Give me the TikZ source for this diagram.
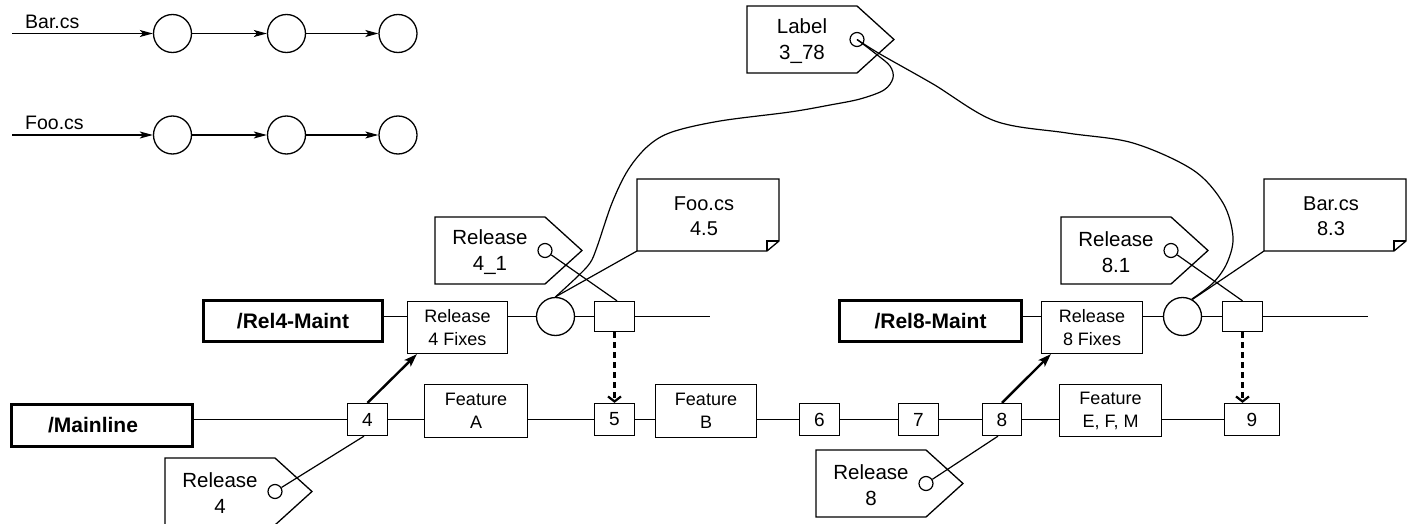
\documentclass[tikz,border=0pt]{standalone}
\usepackage{fontspec}
\setmainfont{Liberation Sans}
\usetikzlibrary{arrows.meta,calc}
\tikzset{
  ln/.style={line width=1.2pt},
  thickbox/.style={draw, line width=3.4pt, inner sep=0pt, font=\bfseries\fontsize{21}{25}\selectfont},
  twobox/.style={draw, line width=1.3pt, inner sep=0pt, align=center, minimum width=100pt, minimum height=52pt, font=\fontsize{18}{23}\selectfont},
  numbox/.style={draw, line width=1.3pt, inner sep=0pt, minimum width=40pt, minimum height=32pt, font=\fontsize{19}{23}\selectfont},
  sqbox/.style={draw, line width=1.3pt, inner sep=0pt, minimum width=40pt, minimum height=30pt},
  ring/.style={draw, circle, line width=1.3pt, inner sep=0pt, minimum size=38pt},
  hole/.style={draw, circle, line width=1.2pt, inner sep=0pt, minimum size=14pt},
  lbl/.style={inner sep=0pt, font=\fontsize{19.5}{23}\selectfont},
  flow/.style={line width=1.2pt, -{Stealth[length=13pt,width=7pt,inset=3pt]}},
  bigarrow/.style={line width=2.4pt, -{Stealth[length=13pt,width=9pt,inset=3pt]}},
  dotarrow/.style={line width=2.6pt, dash pattern=on 6pt off 4pt, -{Straight Barb[length=5pt,width=13pt,line width=2.2pt]}},
  tagpic/.pic={
    \draw[line width=1.3pt] (0,0) -- (110,0) -- (147,33.5) -- (110,67) -- (0,67) -- cycle;
    \node[hole] (-hole) at (110,33.5) {};
    \node[inner sep=0pt, align=center, font=\fontsize{20.5}{26}\selectfont] (-text) at (55,35) {#1};
  },
  notepic/.pic={
    \draw[line width=1.3pt] (0,0) -- (142,0) -- (142,62) -- (130,72) -- (0,72) -- cycle;
    \draw[line width=1.1pt] (130,72) -- (130,62) -- (142,62);
    \coordinate (-sw) at (0,72);
    \node[inner sep=0pt, align=center, font=\fontsize{20}{25}\selectfont] (-text) at (67,37) {#1};
  }
}
\begin{document}
\begin{tikzpicture}[x=1pt,y=-1pt]
\fill[white] (0,0) rectangle (1408,524);
\useasboundingbox (0,0) rectangle (1408,524);

% ---- file histories (top left)
\coordinate (bs) at (12,33.5);
\node[ring] (b1) at (172.5,33.5) {};
\node[ring] (b2) at (286.5,33.5) {};
\node[ring] (b3) at (398,33.5) {};
\node[lbl, anchor=west] (bl) at (25,21.5) {Bar.cs};
\draw[flow] (bs) -- (b1);
\draw[flow] (b1) -- (b2);
\draw[flow] (b2) -- (b3);

\coordinate (fs) at (12,135);
\node[ring] (f1) at (172.5,135) {};
\node[ring] (f2) at (286.5,135) {};
\node[ring] (f3) at (398,135) {};
\node[lbl, anchor=west] (fl) at (25,123) {Foo.cs};
\draw[flow] (fs) -- (f1);
\draw[flow] (f1) -- (f2);
\draw[flow] (f2) -- (f3);

% ---- tags and notes
\pic (l378) at (747,6) {tagpic={Label\\3\_78}};
\pic (t41) at (435,217) {tagpic={Release\\4\_1}};
\pic (t81) at (1061,217) {tagpic={Release\\8.1}};
\pic (t4) at (165,458) {tagpic={Release\\4}};
\pic (t8) at (816,450) {tagpic={Release\\8}};
\pic (foo) at (637,179) {notepic={Foo.cs\\4.5}};
\pic (bar) at (1264,179) {notepic={Bar.cs\\8.3}};

% ---- Rel4 branch
\node[thickbox, minimum width=178.6pt, minimum height=40.6pt] (rel4) at (293,321) {/Rel4-Maint};
\node[twobox] (fix4) at (457.5,327.5) {Release\\4 Fixes};
\node[ring] (c4) at (555.5,316.5) {};
\node[sqbox] (sq4) at (614.5,316.5) {};
\coordinate (e4) at (710,316.5);
\draw[ln] (rel4.east |- c4) -- (fix4.west |- c4);
\draw[ln] (fix4.east |- c4) -- (c4);
\draw[ln] (c4) -- (sq4);
\draw[ln] (sq4) -- (e4);

% ---- Rel8 branch
\node[thickbox, minimum width=181.6pt, minimum height=40.6pt] (rel8) at (930.5,321) {/Rel8-Maint};
\node[twobox, minimum width=101pt] (fix8) at (1092,327.5) {Release\\8 Fixes};
\node[ring] (c8) at (1182.5,316.5) {};
\node[sqbox] (sq8) at (1242.5,316.5) {};
\coordinate (e8) at (1368,316.5);
\draw[ln] (rel8.east |- c8) -- (fix8.west |- c8);
\draw[ln] (fix8.east |- c8) -- (c8);
\draw[ln] (c8) -- (sq8);
\draw[ln] (sq8) -- (e8);

% ---- Mainline
\node[thickbox, minimum width=180.6pt, minimum height=41.6pt] (main) at (102,425.5) {\hspace*{-18pt}/Mainline};
\node[numbox] (n4) at (367.5,419.5) {4};
\node[twobox, minimum width=103pt, minimum height=53pt] (fa) at (476,411) {Feature\\A};
\node[numbox] (n5) at (614.5,419.5) {5};
\node[twobox, minimum width=101pt, minimum height=53pt] (fb) at (706,411) {Feature\\B};
\node[numbox] (n6) at (819.5,419.5) {6};
\node[numbox] (n7) at (918.5,419.5) {7};
\node[numbox, minimum width=39pt] (n8) at (1002,419.5) {8};
\node[twobox, minimum width=102pt, minimum height=52pt] (fe) at (1110.5,410.5) {Feature\\E, F, M};
\node[numbox, minimum width=55pt] (n9) at (1252,419.5) {9};
\draw[ln] (main.east |- n4) -- (n4);
\draw[ln] (n4) -- (fa.west |- n4);
\draw[ln] (fa.east |- n5) -- (n5);
\draw[ln] (n5) -- (fb.west |- n5);
\draw[ln] (fb.east |- n6) -- (n6);
\draw[ln] (n6) -- (n7);
\draw[ln] (n7) -- (n8);
\draw[ln] (n8) -- (fe.west |- n8);
\draw[ln] (fe.east |- n9) -- (n9);

% ---- branching and merging arrows
\draw[bigarrow] (n4.north) -- ([xshift=10pt]fix4.south west);
\draw[bigarrow] (n8.north) -- ([xshift=10pt]fix8.south west);
\draw[dotarrow] (sq4.south) -- (n5.north);
\draw[dotarrow] (sq8.south) -- (sq8.south |- n9.north);

% ---- tag strings
\draw[ln] (t41-hole) -- ([xshift=2.5pt]sq4.north);
\draw[ln] (t81-hole) -- (sq8.north);
\draw[ln] (t4-hole) -- ([xshift=-3.5pt]n4.south);
\draw[ln] (t8-hole) -- ([xshift=-4pt]n8.south);
\draw[ln] (foo-sw) -- (c4.north);
\draw[ln] (bar-sw) -- (c8.60);

% ---- label strings
\draw[ln] plot[smooth, tension=0.55] coordinates {(l378-hole.center) (876,54) (890,66) (893,78) (884,90) (860,99) (830,105) (790,112) (720,121) (672,132) (648,146) (628,170) (612,203) (597,247) (590,263) (577,277) (c4.north)};
\draw[ln] plot[smooth, tension=0.55] coordinates {(l378-hole.center) (880,54) (933,84) (995,121) (1067,133) (1133,143) (1193,170) (1223,203) (1233,237) (1227,263) (1213,283) (c8.62)};
\end{tikzpicture}
\end{document}
